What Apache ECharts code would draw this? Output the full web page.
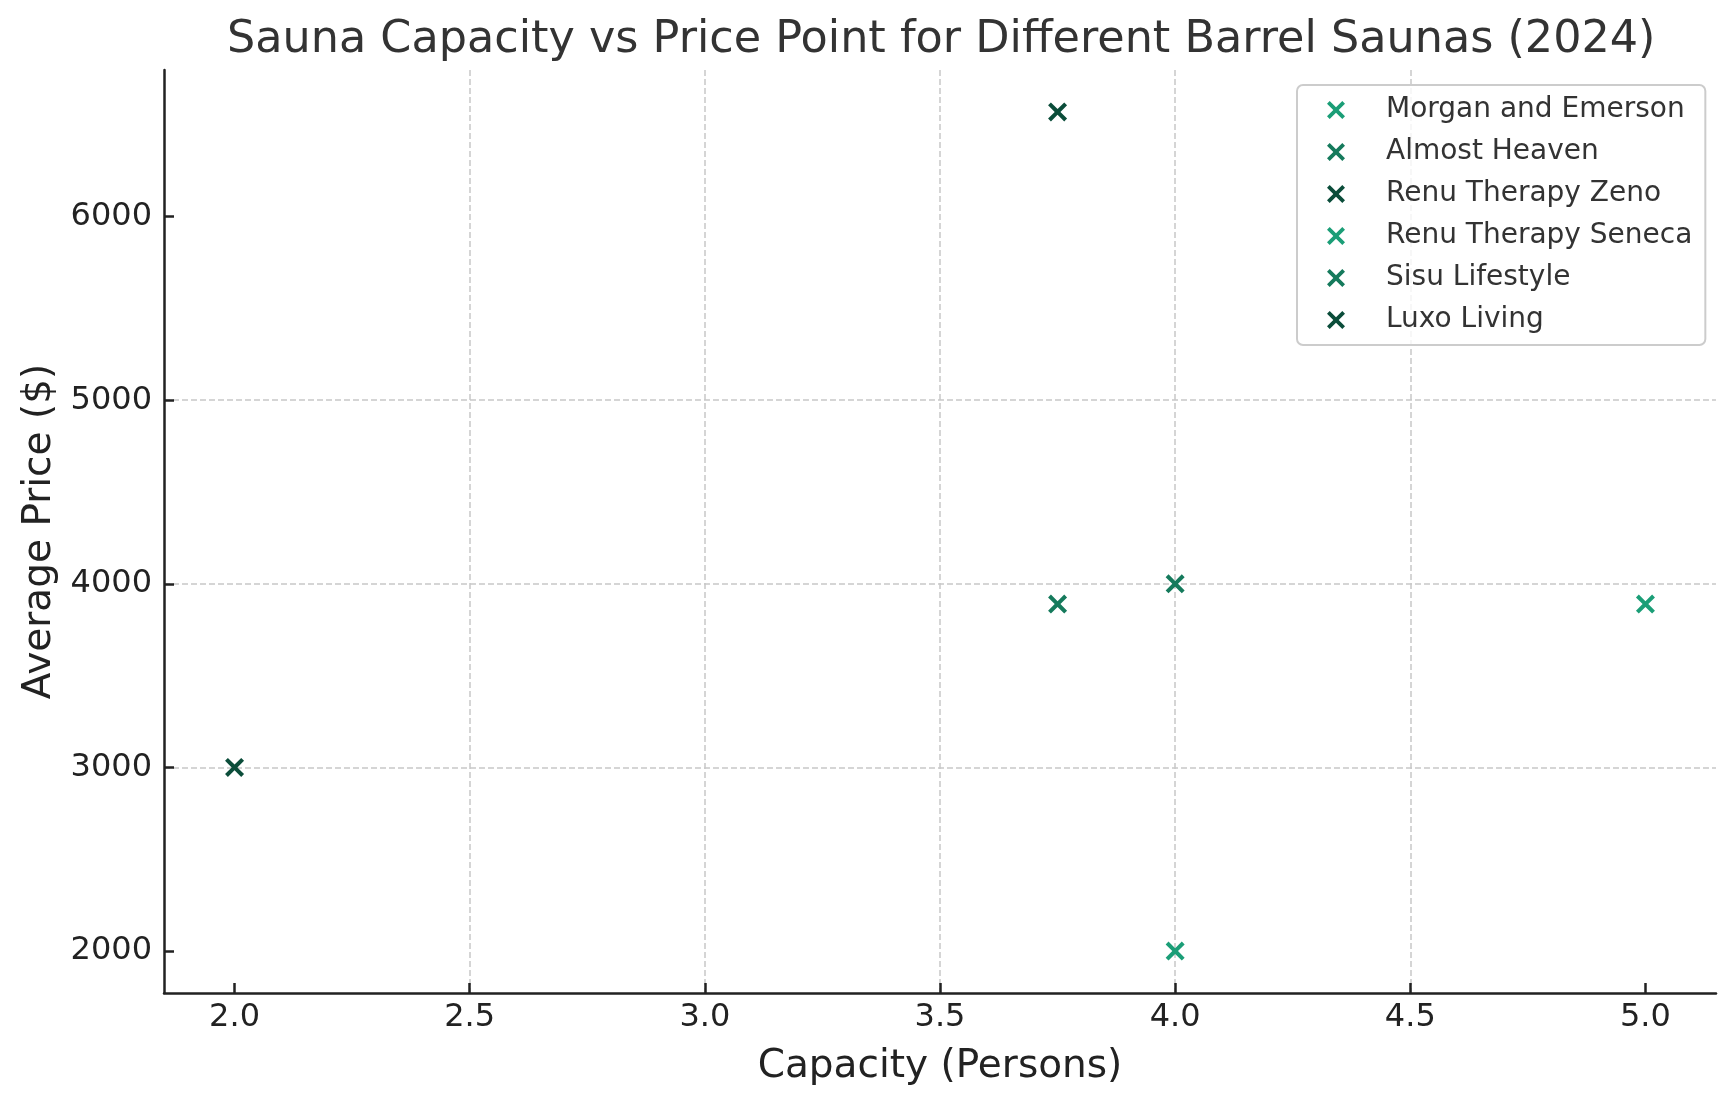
<!DOCTYPE html>
<html>
<head>
<meta charset="utf-8">
<script src="https://cdn.jsdelivr.net/npm/echarts@6/dist/echarts.min.js"></script>
<style>
html,body{margin:0;padding:0;background:#fff;}
#chart{width:1733px;height:1106px;}
</style>
</head>
<body>
<div id="chart"></div>
<script>
// ---- Data ----
const seriesNames = ["Morgan and Emerson", "Almost Heaven", "Renu Therapy Zeno", "Renu Therapy Seneca", "Sisu Lifestyle", "Luxo Living"];
const capacities = [4.0, 4.0, 3.75, 5.0, 3.75, 2.0];
const prices = [2000, 4000, 6570, 3890, 3890, 3000];
const seriesColors = ["#1b9e77", "#157a5c", "#0b4d3a", "#1b9e77", "#157a5c", "#0b4d3a"];
const xTicks = [2.0, 2.5, 3.0, 3.5, 4.0, 4.5, 5.0];
const yTicks = [2000, 3000, 4000, 5000, 6000];
const xRange = [1.85, 5.15];
const yRange = [1771.5, 6798.5];

const FONT = "DejaVu Sans";
const X_SYMBOL = "path://M0,3 L3,0 L10,7 L17,0 L20,3 L13,10 L20,17 L17,20 L10,13 L3,20 L0,17 L7,10 Z";

const chart = echarts.init(document.getElementById('chart'), null, {renderer: 'canvas'});

const series = seriesNames.map((name, i) => ({
  name: name,
  type: 'scatter',
  symbol: X_SYMBOL,
  symbolSize: 19,
  itemStyle: {color: seriesColors[i], opacity: 1},
  data: [[capacities[i], prices[i]]],
  z: 5
}));

const gridLine = {show: true, showMinLine: false, showMaxLine: false, lineStyle: {color: '#c8c8c8', width: 1.5, type: [6, 3]}};

chart.setOption({
  backgroundColor: '#ffffff',
  animation: false,
  title: {
    text: 'Sauna Capacity vs Price Point for Different Barrel Saunas (2024)',
    left: 227,
    top: 18,
    padding: 0,
    textStyle: {fontFamily: FONT, fontSize: 44.5, fontWeight: 'normal', color: '#333333'}
  },
  grid: {left: 164, right: 17, top: 70, bottom: 113, containLabel: false},
  legend: {
    orient: 'vertical',
    left: 1297,
    top: 85,
    padding: [10, 13, 10, 30],
    itemGap: 12,
    itemWidth: 18,
    itemHeight: 18,
    icon: X_SYMBOL,
    backgroundColor: 'rgba(255,255,255,0.8)',
    borderColor: '#cccccc',
    borderWidth: 2,
    borderRadius: 6,
    textStyle: {fontFamily: FONT, fontSize: 28, color: '#333333', lineHeight: 30, padding: [0, 0, 0, 36]},
    data: seriesNames
  },
  xAxis: {
    type: 'value',
    min: xRange[0],
    max: xRange[1],
    name: 'Capacity (Persons)',
    nameLocation: 'middle',
    nameGap: 54,
    nameTextStyle: {fontFamily: FONT, fontSize: 39, color: '#222222'},
    axisLine: {show: true, onZero: false, lineStyle: {color: '#222222', width: 2.5}},
    axisTick: {show: true, inside: true, length: 10, lineStyle: {color: '#222222', width: 2.5}, customValues: xTicks},
    axisLabel: {fontFamily: FONT, fontSize: 32, color: '#222222', margin: 9, customValues: xTicks, formatter: v => Number(v).toFixed(1)},
    splitLine: gridLine
  },
  yAxis: {
    type: 'value',
    min: yRange[0],
    max: yRange[1],
    name: 'Average Price ($)',
    nameLocation: 'middle',
    nameGap: 105,
    nameTextStyle: {fontFamily: FONT, fontSize: 39, color: '#222222'},
    axisLine: {show: true, onZero: false, lineStyle: {color: '#222222', width: 2.5}},
    axisTick: {show: true, inside: true, length: 10, lineStyle: {color: '#222222', width: 2.5}, customValues: yTicks},
    axisLabel: {fontFamily: FONT, fontSize: 32, color: '#222222', margin: 12, customValues: yTicks, formatter: v => String(Math.round(v))},
    splitLine: gridLine
  },
  series: series
});
</script>
</body>
</html>
